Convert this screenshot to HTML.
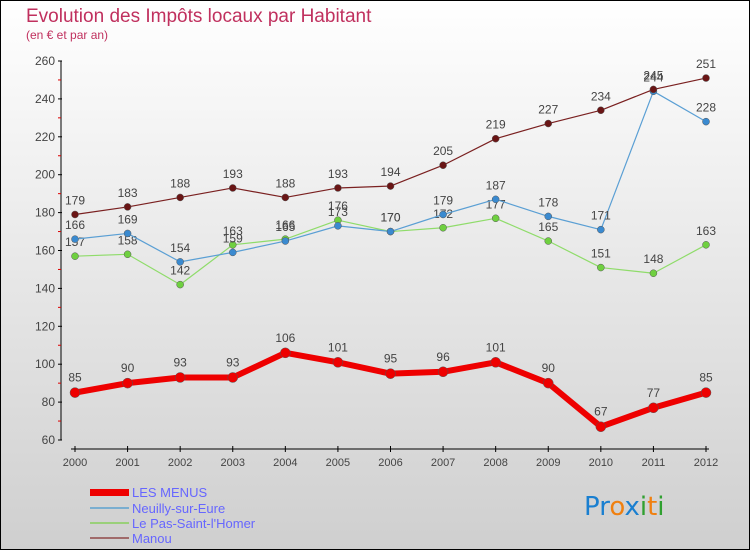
<!DOCTYPE html>
<html><head><meta charset="utf-8"><style>
body{margin:0;width:750px;height:550px;overflow:hidden}
svg{display:block;font-family:"Liberation Sans",sans-serif}
</style></head><body>
<svg id="c" width="750" height="550" xmlns="http://www.w3.org/2000/svg">
<defs><linearGradient id="bg" x1="0" y1="0" x2="0" y2="1"><stop offset="0" stop-color="#ffffff"/><stop offset="1" stop-color="#cfcfcf"/></linearGradient></defs>
<rect x="0.5" y="0.5" width="749" height="549" fill="url(#bg)" stroke="#000"/>
<text x="26" y="22" font-size="19" fill="#c0305e">Evolution des Impôts locaux par Habitant</text>
<text x="26" y="39" font-size="12" fill="#c0305e">(en € et par an)</text>
<g id="axes"></g><g id="series"></g>
<g>
<rect x="90" y="489" width="39" height="7" fill="#e00"/>
<text x="132" y="497" font-size="13" fill="#6666ff">LES MENUS</text>
<line x1="90" y1="508" x2="129" y2="508" stroke="#7aaed0" stroke-width="2"/>
<text x="132" y="513" font-size="13" fill="#6666ff">Neuilly-sur-Eure</text>
<line x1="90" y1="523" x2="129" y2="523" stroke="#9ad07a" stroke-width="2"/>
<text x="132" y="528" font-size="13" fill="#6666ff">Le Pas-Saint-l'Homer</text>
<line x1="90" y1="538" x2="129" y2="538" stroke="#a06a6a" stroke-width="2"/>
<text x="132" y="543" font-size="13" fill="#6666ff">Manou</text>
</g>
<g font-size="26" font-family="'DejaVu Sans',sans-serif">
<text x="584" y="515"><tspan fill="#1a7fd0">Pr</tspan><tspan fill="#f08010">o</tspan><tspan fill="#1a7fd0">x</tspan><tspan fill="#30a030">i</tspan><tspan fill="#f08010">t</tspan><tspan fill="#30a030">i</tspan></text>
</g>
</svg>
<script>
const years=[2000,2001,2002,2003,2004,2005,2006,2007,2008,2009,2010,2011,2012];
const yTicks=[60,80,100,120,140,160,180,200,220,240,260];
const menus=[85,90,93,93,106,101,95,96,101,90,67,77,85];
const neuilly=[166,169,154,159,165,173,170,179,187,178,171,244,228];
const lepas=[157,158,142,163,166,176,170,172,177,165,151,148,163];
const manou=[179,183,188,193,188,193,194,205,219,227,234,245,251];
const NS="http://www.w3.org/2000/svg";
const X=i=>75+i*(706-75)/12;
const Y=v=>440-(v-60)*(440-61)/200;
function mk(t,a,p){const e=document.createElementNS(NS,t);for(const k in a)e.setAttribute(k,a[k]);p.appendChild(e);return e;}
const ax=document.getElementById('axes');
const yl=mk('line',{x1:61,y1:61,x2:61,y2:440,stroke:'#000'},ax);


yTicks.forEach((v,i)=>{
 mk('line',{x1:58,y1:Y(v),x2:62,y2:Y(v),stroke:'#000'},ax);
 if(i<yTicks.length-1)mk('line',{x1:58,y1:Y(v+10),x2:61,y2:Y(v+10),stroke:'#d00'},ax);
 const t=mk('text',{x:55,y:Y(v)+4,'text-anchor':'end','font-size':12,fill:'#444'},ax);t.textContent=v;
 
 
});
const xl=mk('line',{x1:71,y1:449,x2:709,y2:449,stroke:'#000'},ax);


years.forEach((y,i)=>{
 mk('line',{x1:X(i),y1:446,x2:X(i),y2:452,stroke:'#000'},ax);
 const t=mk('text',{x:X(i),y:466,'text-anchor':'middle','font-size':11,fill:'#444'},ax);t.textContent=y;
 
 
});
const sg=document.getElementById('series');
function series(d,name,line,dot,w,r,lblOff){
 const g=mk('g',{},sg);
 
 
 const p=mk('polyline',{points:d.map((v,i)=>X(i)+','+Y(v)).join(' '),fill:'none',stroke:line,'stroke-width':w,'stroke-linejoin':'round'},g);
 
 
 d.forEach((v,i)=>{
  const c=mk('circle',{cx:X(i),cy:Y(v),r:r,fill:dot,stroke:'#555','stroke-width':0.5},g);
  
  
  const t=mk('text',{x:X(i),y:Y(v)-lblOff,'text-anchor':'middle','font-size':12,fill:'#444'},g);t.textContent=v;
  
  
 });
}
series(lepas,'le-pas','#8fdc6a','#6fd040',1.2,3.5,10);
series(neuilly,'neuilly','#5a9fd4','#3a8ad0',1.2,3.5,10);
series(manou,'manou','#7a2020','#6a1515',1.2,3.5,10);
series(menus,'les-menus','#ee0000','#ee0000',6,5,11);
</script>
</body></html>
